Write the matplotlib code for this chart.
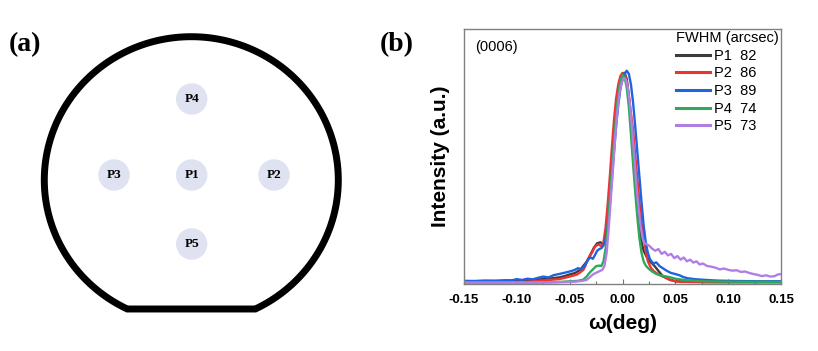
import numpy as np
import matplotlib
matplotlib.use("Agg")
import matplotlib.pyplot as plt
from matplotlib.patches import Circle, Polygon
from matplotlib.ticker import MultipleLocator

# --- panel (a): measurement sites on the wafer (pixel units of the panel) ---
site_names = ["P1", "P2", "P3", "P4", "P5"]
site_x = [191.7, 274.0, 114.0, 191.7, 191.7]
site_y = [175.0, 175.0, 175.0, 99.0, 244.0]

# --- panel (b): rocking curves of the (0006) reflection ---
fwhm = [82, 86, 89, 74, 73]

p1_x = [-0.15, -0.13, -0.11, -0.10, -0.09, -0.08, -0.07, -0.06, -0.055, -0.05, -0.045, -0.04,
        -0.036, -0.033, -0.03, -0.027, -0.024, -0.021, -0.018, -0.016, -0.014, -0.012, -0.010,
        -0.008, -0.006, -0.004, -0.002, 0.000, 0.002, 0.004, 0.006, 0.008, 0.010, 0.012, 0.014,
        0.016, 0.018, 0.020, 0.023, 0.026, 0.030, 0.034, 0.038, 0.044, 0.050, 0.06, 0.07, 0.08,
        0.10, 0.12, 0.15]
p1_y = [0.006, 0.007, 0.008, 0.010, 0.012, 0.014, 0.018, 0.024, 0.030, 0.038, 0.045, 0.060,
        0.085, 0.105, 0.135, 0.165, 0.185, 0.190, 0.180, 0.215, 0.300, 0.420, 0.560,
        0.700, 0.820, 0.900, 0.955, 0.985, 0.990, 0.960, 0.880, 0.760, 0.620, 0.480, 0.360,
        0.260, 0.190, 0.150, 0.120, 0.100, 0.080, 0.055, 0.030, 0.015, 0.006, 0.004, 0.003, 0.002,
        0.002, 0.002, 0.002]

p2_x = [-0.15, -0.12, -0.10, -0.09, -0.08, -0.07, -0.06, -0.053, -0.047, -0.043, -0.040, -0.037,
        -0.035, -0.033, -0.031, -0.029, -0.026, -0.023, -0.020, -0.018, -0.016, -0.014, -0.012,
        -0.010, -0.008, -0.006, -0.004, -0.002, 0.000, 0.002, 0.004, 0.006, 0.008, 0.010, 0.012,
        0.014, 0.016, 0.018, 0.020, 0.022, 0.024, 0.027, 0.030, 0.035, 0.040, 0.045, 0.050, 0.055,
        0.07, 0.10, 0.15]
p2_y = [0.002, 0.002, 0.003, 0.004, 0.008, 0.012, 0.016, 0.024, 0.032, 0.038, 0.048, 0.060,
        0.080, 0.108, 0.125, 0.140, 0.170, 0.180, 0.172, 0.190, 0.260, 0.370, 0.500,
        0.640, 0.770, 0.870, 0.935, 0.975, 0.990, 0.985, 0.950, 0.880, 0.800, 0.720, 0.600,
        0.490, 0.380, 0.280, 0.210, 0.150, 0.100, 0.068, 0.052, 0.035, 0.025, 0.012, 0.006, 0.003,
        0.002, 0.001, 0.001]

p3_x = [-0.15, -0.14, -0.13, -0.12, -0.11, -0.105, -0.10, -0.095, -0.09, -0.085, -0.08, -0.075,
        -0.07, -0.065, -0.06, -0.055, -0.05, -0.046, -0.042, -0.039, -0.036, -0.034, -0.032,
        -0.030, -0.028, -0.026, -0.024, -0.022, -0.020, -0.018, -0.016, -0.014, -0.012, -0.010,
        -0.008, -0.006, -0.004, -0.002, 0.000, 0.002, 0.004, 0.006, 0.008, 0.010, 0.012, 0.014,
        0.016, 0.018, 0.020, 0.022, 0.024, 0.026, 0.029, 0.032, 0.035, 0.038, 0.042, 0.046, 0.050,
        0.054, 0.058, 0.062, 0.068, 0.076, 0.09, 0.11, 0.13, 0.15]
p3_y = [0.008, 0.007, 0.009, 0.008, 0.011, 0.010, 0.016, 0.012, 0.018, 0.015, 0.022, 0.028,
        0.024, 0.035, 0.040, 0.046, 0.052, 0.058, 0.068, 0.062, 0.078, 0.095, 0.112,
        0.118, 0.112, 0.130, 0.150, 0.158, 0.162, 0.175, 0.205, 0.270, 0.370, 0.490,
        0.620, 0.740, 0.840, 0.915, 0.960, 0.985, 1.000, 0.985, 0.935, 0.850, 0.740, 0.620,
        0.500, 0.380, 0.270, 0.190, 0.140, 0.110, 0.090, 0.095, 0.078, 0.068, 0.055, 0.045, 0.040,
        0.034, 0.025, 0.020, 0.016, 0.013, 0.009, 0.007, 0.006, 0.006]

p4_x = [-0.15, -0.10, -0.08, -0.07, -0.062, -0.055, -0.048, -0.042, -0.037, -0.034, -0.031,
        -0.028, -0.025, -0.022, -0.020, -0.018, -0.016, -0.014, -0.012, -0.010, -0.008, -0.006,
        -0.004, -0.002, 0.000, 0.002, 0.004, 0.006, 0.008, 0.010, 0.012, 0.014, 0.016, 0.018,
        0.020, 0.022, 0.025, 0.028, 0.032, 0.036, 0.040, 0.045, 0.050, 0.060, 0.076, 0.10, 0.15]
p4_y = [0.000, 0.000, 0.000, 0.001, 0.002, 0.004, 0.006, 0.008, 0.014, 0.028, 0.047,
        0.062, 0.077, 0.080, 0.078, 0.100, 0.160, 0.260, 0.390, 0.530, 0.670, 0.790,
        0.890, 0.950, 0.980, 0.970, 0.920, 0.830, 0.700, 0.560, 0.430, 0.310, 0.210, 0.140,
        0.100, 0.080, 0.064, 0.052, 0.040, 0.034, 0.030, 0.025, 0.018, 0.011, 0.006, 0.004, 0.003]

p5_x = [-0.15, -0.10, -0.07, -0.055, -0.045, -0.038, -0.034, -0.031, -0.028, -0.025, -0.022,
        -0.019, -0.017, -0.015, -0.013, -0.011, -0.009, -0.007, -0.005, -0.003, -0.001, 0.001,
        0.003, 0.005, 0.007, 0.009, 0.011, 0.013, 0.015, 0.017, 0.019, 0.021, 0.023, 0.025,
        0.028, 0.031, 0.034, 0.037, 0.040, 0.043, 0.046, 0.049, 0.052, 0.055, 0.058, 0.061, 0.064,
        0.067, 0.070, 0.073, 0.076, 0.080, 0.084, 0.088, 0.092, 0.096, 0.100, 0.104, 0.108, 0.112,
        0.116, 0.120, 0.124, 0.128, 0.132, 0.136, 0.140, 0.144, 0.147, 0.150]
p5_y = [0.000, 0.000, 0.001, 0.002, 0.004, 0.008, 0.012, 0.025, 0.038, 0.046, 0.053,
        0.060, 0.080, 0.140, 0.260, 0.400, 0.540, 0.680, 0.800, 0.890, 0.940, 0.965,
        0.960, 0.920, 0.840, 0.730, 0.600, 0.470, 0.360, 0.270, 0.210, 0.185, 0.180, 0.175,
        0.160, 0.150, 0.158, 0.135, 0.145, 0.128, 0.135, 0.115, 0.125, 0.108, 0.118, 0.100, 0.108,
        0.094, 0.100, 0.085, 0.090, 0.078, 0.075, 0.070, 0.062, 0.066, 0.060, 0.056, 0.058, 0.050,
        0.052, 0.045, 0.040, 0.036, 0.030, 0.034, 0.028, 0.030, 0.038, 0.040]

curves = [(p1_x, p1_y), (p2_x, p2_y), (p3_x, p3_y), (p4_x, p4_y), (p5_x, p5_y)]
colors = ["#3c3c3c", "#ee3333", "#1f63e0", "#2fa85a", "#b07fe4"]

plt.rcParams["font.family"] = ["Liberation Sans", "DejaVu Sans"]

fig = plt.figure(figsize=(8.18, 3.51), dpi=100)

# ---------------- (a) ----------------
ax0 = fig.add_axes([0, 0, 410 / 818, 1])
ax0.set_xlim(0, 410)
ax0.set_ylim(351, 0)
ax0.axis("off")

# wafer outline: slightly flattened circle with a flat at the bottom
cx, cy, ra, rb, flat = 191.3, 180.0, 147.0, 143.3, 129.0
t0 = np.arcsin(flat / rb)
t = np.linspace(np.pi - t0, 2 * np.pi + t0, 400)
outline = np.column_stack([cx + ra * np.cos(t), cy + rb * np.sin(t)])
ax0.add_patch(Polygon(outline, closed=True, fill=False, lw=5, ec="black", joinstyle="miter"))

for name, sx, sy in zip(site_names, site_x, site_y):
    ax0.add_patch(Circle((sx, sy), 15.7, fc="#dfe2f0", ec="none"))
    ax0.text(sx, sy, name, ha="center", va="center", fontsize=9.5, fontweight="bold",
             family="Liberation Serif")

ax0.text(9, 45, "(a)", ha="left", va="center", fontsize=20, fontweight="bold",
         family="Liberation Serif")
fig.text(380 / 818, 1 - 45 / 351, "(b)", ha="left", va="center", fontsize=20,
         fontweight="bold", family="Liberation Serif")

# ---------------- (b) ----------------
ax = fig.add_axes([464 / 818, 1 - 284 / 351, 317 / 818, 255 / 351])
for (cx_, cy_), col, name, w in zip(curves, colors, site_names, fwhm):
    ax.plot(cx_, cy_, color=col, lw=1.7, label=f"{name}  {w}")

ax.set_xlim(-0.15, 0.15)
ax.set_ylim(-0.007, 1.197)
ax.set_yticks([])
ax.xaxis.set_major_locator(MultipleLocator(0.05))
ax.xaxis.set_minor_locator(MultipleLocator(0.025))
ax.tick_params(axis="x", which="major", direction="in", length=3.5, width=0.8,
               color="#707070", pad=7, labelsize=9.5)
ax.tick_params(axis="x", which="minor", direction="in", length=2.5, width=0.8, color="#707070")
ax.set_xticks([-0.15, -0.10, -0.05, 0.00, 0.05, 0.10, 0.15])
ax.set_xticklabels(["-0.15", "-0.10", "-0.05", "0.00", "0.05", "0.10", "0.15"], fontweight="bold")
for s in ax.spines.values():
    s.set_color("#808080")
    s.set_linewidth(1.0)

ax.set_xlabel("ω(deg)", fontsize=15, fontweight="bold", labelpad=6)
ax.set_ylabel("Intensity (a.u.)", fontsize=15, fontweight="bold", labelpad=10)
ax.text(0.035, 0.93, "(0006)", transform=ax.transAxes, fontsize=10.5, ha="left", va="center")

leg = ax.legend(title="FWHM (arcsec)", loc="upper right", frameon=False, fontsize=10.5,
                title_fontsize=10.5, handlelength=2.3, handletextpad=0.3, labelspacing=0.25,
                borderaxespad=0.1, borderpad=0.05, alignment="left")
for h in leg.get_lines():
    h.set_linewidth(2.2)

fig.savefig("out.png", dpi=100)
